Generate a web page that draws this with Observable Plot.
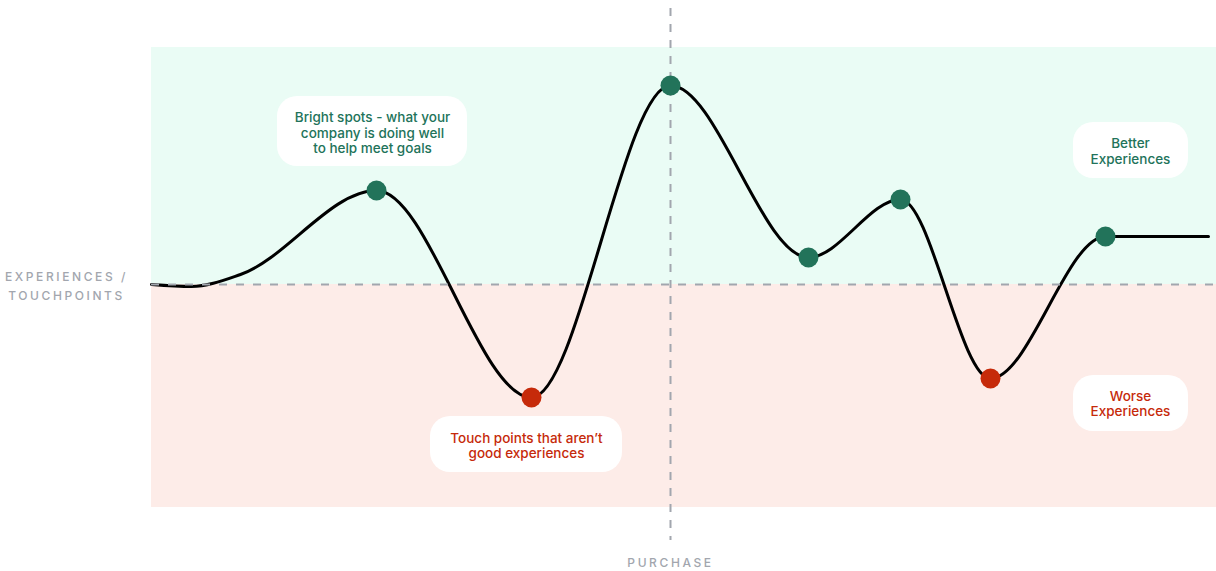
<!DOCTYPE html>
<html>
<head>
<meta charset="utf-8">
<script src="https://cdn.jsdelivr.net/npm/d3@7"></script>
<script src="https://cdn.jsdelivr.net/npm/@observablehq/plot@0.6"></script>
<style>
  html, body { margin: 0; padding: 0; background: #ffffff; }
  #chart { width: 1216px; height: 571px; }
</style>
</head>
<body>
<div id="chart"></div>
<script>
// Journey curve: position along the journey vs. experience score
const journeyX = [0, 40, 89, 225, 380, 519, 657, 749, 839, 954, 1057];
const journeyY = [0, -2, 10, 94, -113, 199, 27, 85, -94, 48, 48];

// Touchpoints (dots)
const touchX = [225, 380, 519, 657, 749, 839, 954];
const touchY = [94, -113, 199, 27, 85, -94, 48];
const touchKind = ["good", "bad", "good", "good", "good", "bad", "good"];

// Purchase moment
const purchaseX = 519;

// Zones
const zoneNames = ["better", "worse"];
const zoneTop = [237, 0];
const zoneBottom = [0, -223];

// Annotation callouts
const noteText = [
  "Bright spots - what your\ncompany is doing well\nto help meet goals",
  "Touch points that aren\u2019t\ngood experiences",
  "Better\nExperiences",
  "Worse\nExperiences"
];
const noteKind = ["good", "bad", "good", "bad"];
const noteX = [221, 375, 979, 979];
const noteY = [152, -161, 133.5, -119];
const noteX1 = [126, 279, 922, 922];
const noteX2 = [316, 471, 1037, 1037];
const noteY1 = [118, -188, 106, -147];
const noteY2 = [188, -132, 162, -91];

const GREEN = "#22735a";
const RED = "#c62a0a";
const GRAY = "#a2a6ae";

const journey = journeyX.map((x, i) => ({x, y: journeyY[i]}));
const touches = touchX.map((x, i) => ({x, y: touchY[i], kind: touchKind[i]}));
const zones = zoneNames.map((z, i) => ({zone: z, y1: zoneBottom[i], y2: zoneTop[i]}));
const notes = noteText.map((t, i) => ({
  text: t, kind: noteKind[i], x: noteX[i], y: noteY[i],
  x1: noteX1[i], x2: noteX2[i], y1: noteY1[i], y2: noteY2[i]
}));

const colorOf = k => k === "good" ? GREEN : RED;

const svg = Plot.plot({
  width: 1216,
  height: 571,
  marginLeft: 151,
  marginRight: 0,
  marginTop: 47,
  marginBottom: 64,
  x: {domain: [0, 1065], axis: null},
  y: {domain: [-223, 237], axis: null},
  style: {fontFamily: "Inter, 'Noto Sans', sans-serif", background: "#ffffff"},
  marks: [
    Plot.rect(zones, {
      x1: 0, x2: 1065, y1: "y1", y2: "y2",
      fill: d => d.zone === "better" ? "#eafcf5" : "#fdece8"
    }),
    Plot.line(journey, {x: "x", y: "y", curve: "monotone-x", stroke: "#000000", strokeWidth: 3}),
    Plot.ruleY([0], {x1: 0, x2: 1065, stroke: GRAY, strokeWidth: 2, strokeDasharray: "8,9"}),
    Plot.ruleX([purchaseX], {y1: 276, y2: -256, stroke: GRAY, strokeWidth: 2, strokeDasharray: "8,8"}),
    Plot.dot(touches, {x: "x", y: "y", r: 10, fill: d => colorOf(d.kind), stroke: "none"}),
    Plot.rect(notes, {x1: "x1", x2: "x2", y1: "y1", y2: "y2", fill: "#ffffff", rx: 20}),
    Plot.text(notes, {
      x: "x", y: "y", text: "text", fill: d => colorOf(d.kind),
      fontSize: 13.5, fontWeight: 500, lineAnchor: "middle", lineHeight: 1.17
    }),
    Plot.text(["EXPERIENCES /\nTOUCHPOINTS"], {
      x: -85, y: 0, text: d => d, fill: GRAY, fontSize: 12, fontWeight: 500,
      lineAnchor: "middle", lineHeight: 1.55
    }),
    Plot.text(["PURCHASE"], {
      x: purchaseX, y: -279, text: d => d, fill: GRAY, fontSize: 12, fontWeight: 500,
      lineAnchor: "middle"
    })
  ]
});

d3.select(svg).selectAll("text")
  .filter(function() { return /EXPERIENCES \/|PURCHASE/.test(this.textContent); })
  .style("letter-spacing", "2.6px");
document.getElementById("chart").appendChild(svg);
</script>
</body>
</html>
